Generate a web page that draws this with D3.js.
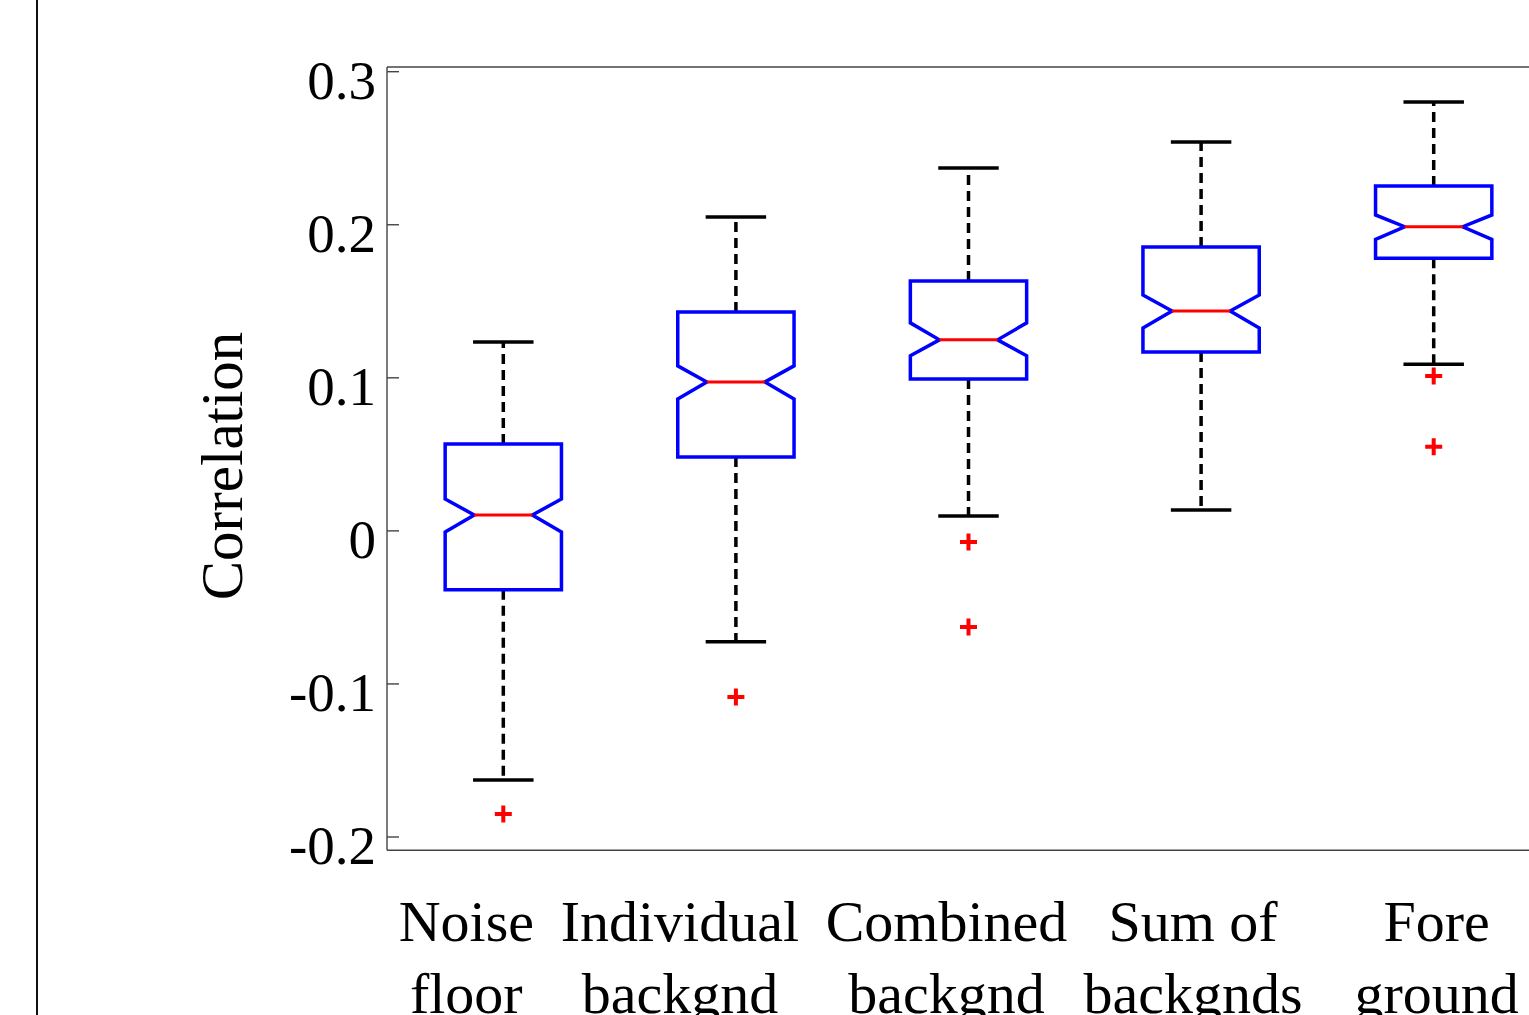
<!DOCTYPE html>
<html>
<head>
<meta charset="utf-8">
<script src="https://cdn.jsdelivr.net/npm/d3@7"></script>
<style>
  html, body { margin: 0; padding: 0; background: #fff; overflow: hidden; }
  svg { display: block; }
</style>
</head>
<body>
<svg id="chart" width="1529" height="1015"></svg>
<script>
// ---- data ----
const categories = [
  ["Noise", "floor"],
  ["Individual", "backgnd"],
  ["Combined", "backgnd"],
  ["Sum of", "backgnds"],
  ["Fore", "ground"]
];
const whiskerHigh = [0.1234, 0.2051, 0.2371, 0.2541, 0.2802];
const q3Values    = [0.0568, 0.1430, 0.1633, 0.1855, 0.2253];
const notchHigh   = [0.0208, 0.1078, 0.1359, 0.1541, 0.2064];
const medians     = [0.0104, 0.0973, 0.1248, 0.1437, 0.1987];
const notchLow    = [-0.0007, 0.0862, 0.1144, 0.1326, 0.1905];
const q1Values    = [-0.0385, 0.0483, 0.0993, 0.1169, 0.1781];
const whiskerLow  = [-0.1627, -0.0725, 0.0097, 0.0137, 0.1088];
const outliers    = [[-0.1849], [-0.1085], [-0.0072, -0.0628], [], [0.1012, 0.0550]];
const yTicks      = [-0.2, -0.1, 0, 0.1, 0.2, 0.3];
const yTickLabels = ["-0.2", "-0.1", "0", "0.1", "0.2", "0.3"];
const yLabel = "Correlation";

// ---- layout ----
const labelDx = [-37, -56, -22, -8, 3];   // label shifts relative to box centre
const font = "'Liberation Serif', 'DejaVu Serif', serif";

const svg = d3.select("#chart");

const x = d3.scaleLinear().domain([0.5, 5.5]).range([387, 1550]);
const y = d3.scaleLinear().domain([-0.2, 0.3]).range([837, 71.7]);
const yMin = y.invert(850.3), yMax = y.invert(67);

// left border line of neighbouring panel
svg.append("line")
  .attr("x1", 37).attr("x2", 37).attr("y1", 0).attr("y2", 1015)
  .attr("stroke", "#111").attr("stroke-width", 2);

// axes frame
const frame = svg.append("g").attr("fill", "none").attr("stroke", "#444").attr("stroke-width", 1.4);
frame.append("line").attr("x1", x(0.5)).attr("x2", x(5.5)).attr("y1", y(yMax)).attr("y2", y(yMax));
frame.append("line").attr("x1", x(0.5)).attr("x2", x(5.5)).attr("y1", y(yMin)).attr("y2", y(yMin));
frame.append("line").attr("x1", x(0.5)).attr("x2", x(0.5)).attr("y1", y(yMax)).attr("y2", y(yMin));

// y ticks (inward) + labels
const yAxis = svg.append("g");
yTicks.forEach((t, i) => {
  yAxis.append("line")
    .attr("x1", x(0.5)).attr("x2", x(0.5) + 12)
    .attr("y1", y(t)).attr("y2", y(t))
    .attr("stroke", "#444").attr("stroke-width", 1.4);
  yAxis.append("text")
    .attr("x", x(0.5) - 11).attr("y", y(t) + 27)
    .attr("text-anchor", "end")
    .attr("font-family", font).attr("font-size", 55)
    .attr("fill", "#000")
    .text(yTickLabels[i]);
});

// y label
svg.append("text")
  .attr("transform", `translate(242,466) rotate(-90)`)
  .attr("text-anchor", "middle")
  .attr("font-family", font).attr("font-size", 59)
  .attr("fill", "#000")
  .text(yLabel);

// boxes
const boxHalf = 0.25, notchHalf = 0.125, capHalf = 0.13;
const g = svg.append("g");
categories.forEach((c, i) => {
  const cx = i + 1;
  // whiskers (dashed)
  g.append("line")
    .attr("x1", x(cx)).attr("x2", x(cx))
    .attr("y1", y(q3Values[i])).attr("y2", y(whiskerHigh[i]))
    .attr("stroke", "#000").attr("stroke-width", 3.5).attr("stroke-dasharray", "10,6");
  g.append("line")
    .attr("x1", x(cx)).attr("x2", x(cx))
    .attr("y1", y(q1Values[i])).attr("y2", y(whiskerLow[i]))
    .attr("stroke", "#000").attr("stroke-width", 3.5).attr("stroke-dasharray", "10,6");
  // caps
  [whiskerHigh[i], whiskerLow[i]].forEach(v => {
    g.append("line")
      .attr("x1", x(cx - capHalf)).attr("x2", x(cx + capHalf))
      .attr("y1", y(v)).attr("y2", y(v))
      .attr("stroke", "#000").attr("stroke-width", 3.5);
  });
  // notched box
  const pts = [
    [cx - boxHalf, q3Values[i]],
    [cx + boxHalf, q3Values[i]],
    [cx + boxHalf, notchHigh[i]],
    [cx + notchHalf, medians[i]],
    [cx + boxHalf, notchLow[i]],
    [cx + boxHalf, q1Values[i]],
    [cx - boxHalf, q1Values[i]],
    [cx - boxHalf, notchLow[i]],
    [cx - notchHalf, medians[i]],
    [cx - boxHalf, notchHigh[i]]
  ];
  g.append("path")
    .attr("d", d3.line().x(d => x(d[0])).y(d => y(d[1]))(pts) + "Z")
    .attr("fill", "none").attr("stroke", "#0000ff").attr("stroke-width", 3.5)
    .attr("stroke-linejoin", "miter");
  // median
  g.append("line")
    .attr("x1", x(cx - notchHalf)).attr("x2", x(cx + notchHalf))
    .attr("y1", y(medians[i])).attr("y2", y(medians[i]))
    .attr("stroke", "#ff0000").attr("stroke-width", 3);
  // outliers
  outliers[i].forEach(v => {
    const px = x(cx), py = y(v), s = 8.5;
    g.append("path")
      .attr("d", `M${px - s},${py}H${px + s}M${px},${py - s}V${py + s}`)
      .attr("stroke", "#ff0000").attr("stroke-width", 4).attr("fill", "none");
  });
  // category labels
  const t = svg.append("text")
    .attr("font-family", font).attr("font-size", 58)
    .attr("text-anchor", "middle").attr("fill", "#000");
  c.forEach((line, k) => {
    t.append("tspan")
      .attr("x", x(cx) + labelDx[i])
      .attr("y", 941 + k * 72)
      .text(line);
  });
});
</script>
</body>
</html>
